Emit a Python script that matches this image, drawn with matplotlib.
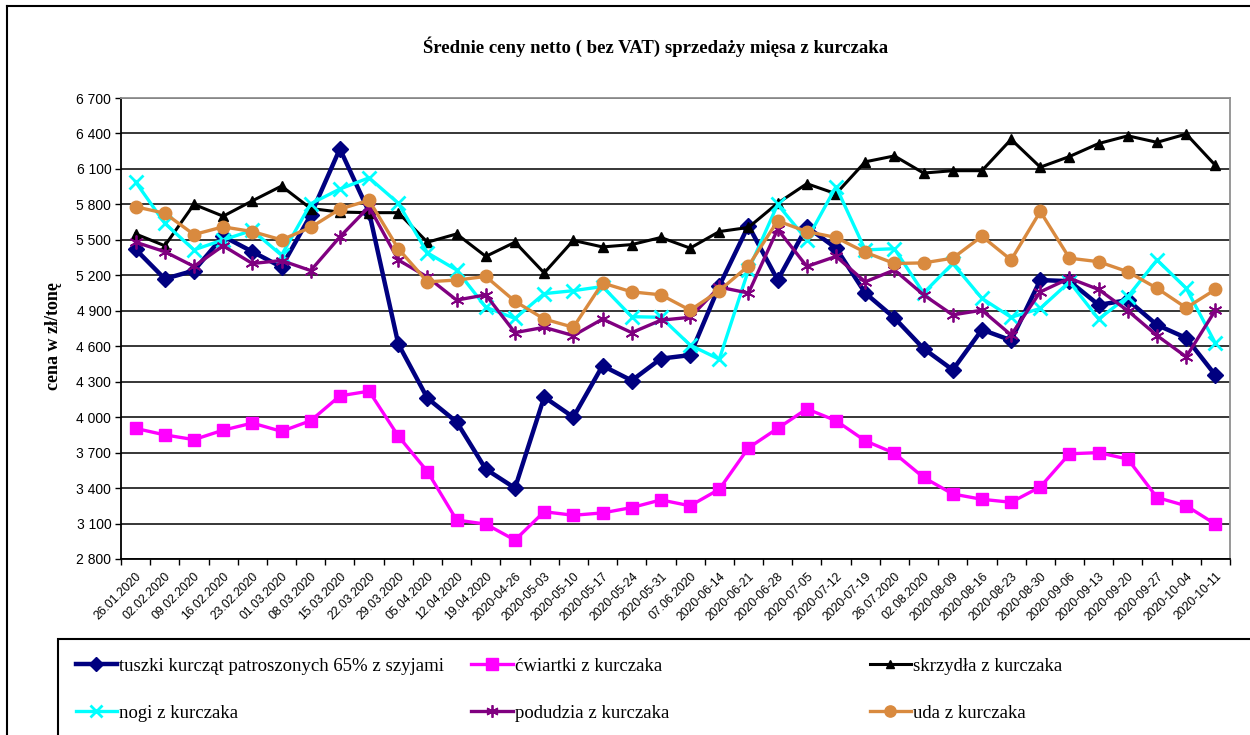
import matplotlib
matplotlib.use('Agg')
import matplotlib.pyplot as plt
from matplotlib.lines import Line2D
from matplotlib.patches import Rectangle
import numpy as np

# dates as printed on the axis (mixed formats, kept as in source)
dates = ['26.01.2020', '02.02.2020', '09.02.2020', '16.02.2020', '23.02.2020',
         '01.03.2020', '08.03.2020', '15.03.2020', '22.03.2020', '29.03.2020',
         '05.04.2020', '12.04.2020', '19.04.2020', '2020-04-26', '2020-05-03',
         '2020-05-10', '2020-05-17', '2020-05-24', '2020-05-31', '07.06.2020',
         '2020-06-14', '2020-06-21', '2020-06-28', '2020-07-05', '2020-07-12',
         '2020-07-19', '26.07.2020', '02.08.2020', '2020-08-09', '2020-08-16',
         '2020-08-23', '2020-08-30', '2020-09-06', '2020-09-13', '2020-09-20',
         '2020-09-27', '2020-10-04', '2020-10-11']

tuszki = [5420, 5170, 5240, 5530, 5400, 5270, 5710, 6270, 5735, 4620,
          4160, 3960, 3560, 3400, 4170, 4000, 4435, 4310, 4495, 4525,
          5110, 5620, 5160, 5610, 5430, 5050, 4840, 4580, 4400, 4740,
          4650, 5160, 5150, 4950, 4990, 4780, 4670, 4355]
cwiartki = [3905, 3850, 3810, 3890, 3950, 3880, 3970, 4180, 4220, 3840,
            3540, 3130, 3095, 2960, 3200, 3170, 3190, 3235, 3300, 3250,
            3390, 3740, 3905, 4070, 3970, 3800, 3695, 3490, 3350, 3305,
            3280, 3410, 3690, 3700, 3645, 3320, 3250, 3095]
skrzydla = [5550, 5450, 5800, 5700, 5830, 5955, 5765, 5735, 5730, 5730,
            5480, 5550, 5360, 5480, 5220, 5495, 5440, 5460, 5520, 5430,
            5570, 5605, 5810, 5975, 5890, 6160, 6210, 6065, 6085, 6085,
            6350, 6115, 6205, 6315, 6380, 6325, 6395, 6130]
nogi = [5990, 5640, 5415, 5500, 5580, 5370, 5805, 5930, 6025, 5810,
        5390, 5245, 4930, 4835, 5045, 5070, 5105, 4850, 4845, 4610,
        4490, 5245, 5800, 5500, 5950, 5415, 5425, 5050, 5300, 5005,
        4845, 4920, 5145, 4830, 5020, 5330, 5090, 4625]
podudzia = [5480, 5400, 5275, 5450, 5300, 5325, 5240, 5525, 5780, 5330,
            5185, 4990, 5035, 4715, 4760, 4690, 4830, 4715, 4820, 4845,
            5100, 5050, 5590, 5275, 5360, 5145, 5245, 5035, 4865, 4905,
            4695, 5060, 5175, 5080, 4900, 4690, 4510, 4905]
uda = [5780, 5725, 5545, 5610, 5570, 5500, 5605, 5760, 5835, 5425,
       5145, 5160, 5190, 4980, 4830, 4760, 5135, 5060, 5035, 4905,
       5070, 5280, 5660, 5570, 5520, 5395, 5300, 5305, 5345, 5530,
       5330, 5740, 5345, 5315, 5230, 5090, 4925, 5080]

names = ['tuszki kurcząt patroszonych 65% z szyjami', 'ćwiartki z kurczaka',
         'skrzydła z kurczaka', 'nogi z kurczaka', 'podudzia z kurczaka',
         'uda z kurczaka']
yticks = list(range(2800, 6701, 300))

serif = ['Liberation Serif', 'DejaVu Serif']
sans = ['Liberation Sans', 'DejaVu Sans']

asterisk = (6, 2, 0)
styles = [
    dict(color='#000080', marker='D', ms=8, lw=3.2, mew=1),
    dict(color='#FF00FF', marker='s', ms=9, lw=2.4, mew=1),
    dict(color='#000000', marker='^', ms=6.5, lw=2.2, mew=1),
    dict(color='#00FFFF', marker='x', ms=10, lw=2.4, mew=2),
    dict(color='#800080', marker=asterisk, ms=10, lw=2.4, mew=1.3),
    dict(color='#D98A3F', marker='o', ms=9, lw=2.4, mew=1),
]

fig = plt.figure(figsize=(12.5, 7.35), dpi=100)
ax = fig.add_axes([121 / 1250, 1 - 559 / 735, 1109 / 1250, 461 / 735])

x = np.arange(len(dates))
handles = []
for vals, name, st in zip([tuszki, cwiartki, skrzydla, nogi, podudzia, uda], names, styles):
    h, = ax.plot(x, vals, color=st['color'], lw=st['lw'], marker=st['marker'],
                 ms=st['ms'], mew=st['mew'], mec=st['color'], mfc=st['color'],
                 label=name, clip_on=False)
    handles.append(h)

ax.set_xlim(-0.5, len(dates) - 0.5)
ax.set_ylim(2800, 6700)
ax.set_yticks(yticks)
ax.set_yticklabels([f'{v:,}'.replace(',', ' ') for v in yticks], family=sans, fontsize=10)
ax.yaxis.grid(True, color='black', lw=1.1)
ax.set_axisbelow(True)

ax.set_xticks(x)
ax.set_xticklabels(dates, rotation=45, ha='right', va='top', rotation_mode='anchor',
                   family=sans, fontsize=8.7)
ax.set_xticks(np.arange(-0.5, len(dates), 1), minor=True)
ax.tick_params(axis='x', which='major', length=0, pad=8)
ax.tick_params(axis='x', which='minor', length=4, width=1, color='black')
ax.tick_params(axis='y', length=4, width=1, color='black', pad=3)

for s in ['top', 'right']:
    ax.spines[s].set_color('#909090')
    ax.spines[s].set_linewidth(1.3)
for s in ['left', 'bottom']:
    ax.spines[s].set_color('black')
    ax.spines[s].set_linewidth(1.3)

fig.text(656 / 1250, 1 - 47 / 735, 'Średnie ceny netto ( bez VAT) sprzedaży mięsa z kurczaka',
         family=serif, fontsize=13.5, fontweight='bold', ha='center', va='center')
fig.text(54 / 1250, 1 - 336 / 735, 'cena w zł/tonę', family=serif, fontsize=13,
         fontweight='bold', rotation=90, ha='center', va='center')

# outer frame lines
fig.add_artist(Line2D([7 / 1250, 7 / 1250], [0, 1 - 6 / 735], transform=fig.transFigure,
                      color='black', lw=1.5))
fig.add_artist(Line2D([7 / 1250, 1], [1 - 6 / 735, 1 - 6 / 735], transform=fig.transFigure,
                      color='black', lw=1.5))

# legend box
fig.add_artist(Rectangle((58 / 1250, -0.01), 1.0, (735 - 639) / 735 + 0.01,
                         transform=fig.transFigure, fill=False, ec='black', lw=1.5))

col_x = [68, 464, 862]
for c in range(3):
    leg = fig.legend([handles[c], handles[c + 3]], [names[c], names[c + 3]],
                     loc='upper left', bbox_to_anchor=(col_x[c] / 1250, 1 - 650 / 735),
                     frameon=False, prop={'family': serif, 'size': 13.5},
                     handlelength=2.2, handletextpad=0.1, labelspacing=1.6,
                     markerscale=0.9, borderaxespad=0)

fig.savefig('out.png', dpi=100)
